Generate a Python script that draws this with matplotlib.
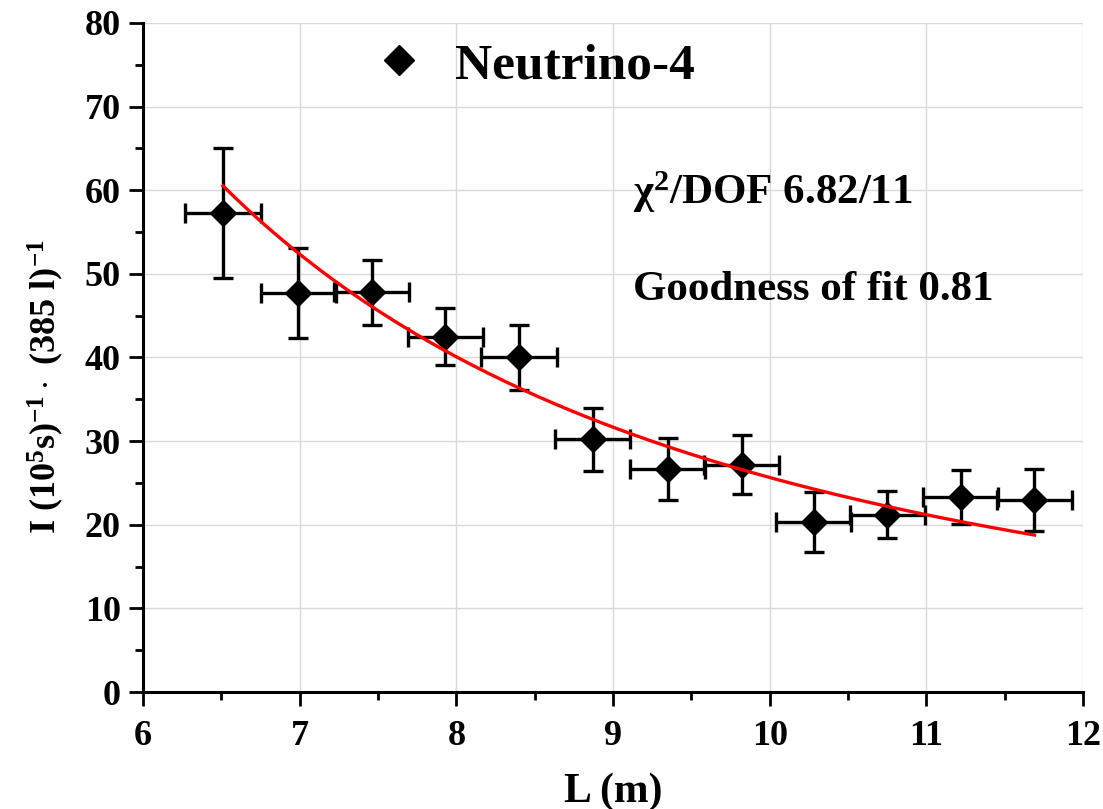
import numpy as np
import matplotlib
matplotlib.use("Agg")
import matplotlib.pyplot as plt
from matplotlib.ticker import MultipleLocator
from matplotlib.lines import Line2D

plt.rcParams['font.family'] = ['Liberation Serif', 'DejaVu Serif']
plt.rcParams['font.weight'] = 'bold'
plt.rcParams['mathtext.fontset'] = 'custom'
plt.rcParams['mathtext.rm'] = 'Liberation Serif:bold'
plt.rcParams['mathtext.bf'] = 'Liberation Serif:bold'
plt.rcParams['mathtext.it'] = 'Liberation Serif:bold:italic'

# data
L_m = [6.51, 6.99, 7.46, 7.93, 8.40, 8.87, 9.35, 9.82, 10.28, 10.75, 11.22, 11.69]
rate = [57.3, 47.7, 47.8, 42.5, 40.0, 30.2, 26.7, 27.2, 20.3, 21.2, 23.3, 23.0]
rate_err = [7.8, 5.4, 3.9, 3.4, 3.9, 3.8, 3.7, 3.5, 3.6, 2.8, 3.2, 3.7]
L_err = [0.24] * 12

# fit of the form C / L^2
fit_coef = 2565.0
fit_x = np.linspace(L_m[0], L_m[-1], 200)
fit_y = fit_coef / fit_x ** 2

fig = plt.figure(figsize=(11.03, 8.09), dpi=100)
ax = fig.add_axes([0.1297, 0.1446, 0.8522, 0.827])

ax.errorbar(L_m, rate, yerr=rate_err, xerr=L_err, fmt='D', color='black',
            markersize=13, elinewidth=2.4, capsize=7, capthick=2.4, zorder=3)
ax.plot(fit_x, fit_y, color='red', lw=2.4, zorder=4)

ax.set_xlim(6, 12)
ax.set_ylim(0, 80)
ax.xaxis.set_major_locator(MultipleLocator(1))
ax.xaxis.set_minor_locator(MultipleLocator(0.5))
ax.yaxis.set_major_locator(MultipleLocator(10))
ax.yaxis.set_minor_locator(MultipleLocator(5))
ax.grid(True, which='major', color='#d9d9d9', lw=1, zorder=0)
ax.set_axisbelow(True)

for side in ['top', 'right']:
    ax.spines[side].set_visible(False)
for side in ['left', 'bottom']:
    ax.spines[side].set_linewidth(2.2)

ax.tick_params(which='major', length=10, width=2, labelsize=26, direction='out')
ax.tick_params(which='minor', length=5.5, width=2, direction='out')
ax.tick_params(axis='x', pad=10)
ax.tick_params(axis='y', pad=6)

ax.set_xlabel('L (m)', fontsize=30, fontweight='bold', labelpad=14)
ax.set_ylabel(r'I (10$^5$s)$^{-1}\cdot$ (385 l)$^{-1}$', fontsize=26,
              fontweight='bold')
ax.yaxis.set_label_coords(-0.082, 0.456)

ax.text(9.13, 58.3, r'χ$^2$/DOF 6.82/11', fontsize=31, fontweight='bold', va='baseline')
ax.text(9.13, 46.9, 'Goodness of fit 0.81', fontsize=31, fontweight='bold', va='baseline')

handle = Line2D([], [], marker='D', color='black', linestyle='none', markersize=15)
ax.legend([handle], ['Neutrino-4'], loc='upper left', bbox_to_anchor=(0.19, 1.04),
          frameon=False, fontsize=37, handletextpad=0.5, handlelength=1.2)

fig.savefig('out.png', dpi=100)
